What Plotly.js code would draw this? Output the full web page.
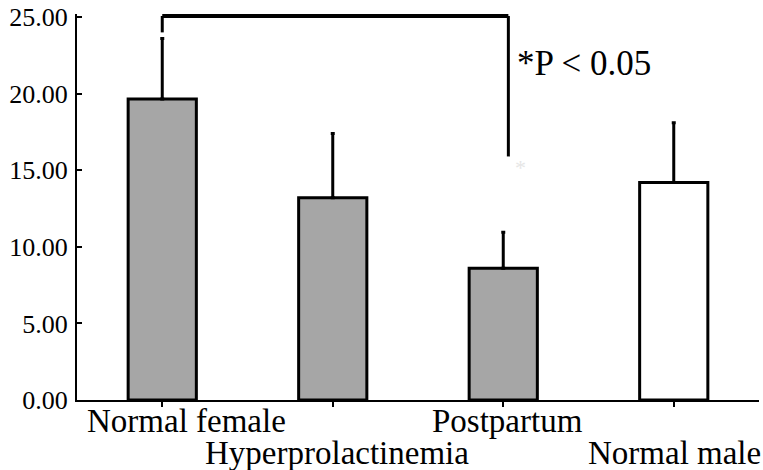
<!DOCTYPE html>
<html>
<head>
<meta charset="utf-8">
<script src="https://cdn.plot.ly/plotly-3.0.1.min.js"></script>
<style>html,body{margin:0;padding:0;background:#fff;}#chart{width:763px;height:470px;}</style>
</head>
<body>
<div id="chart"></div>
<script>
var categories = ["Normal female", "Hyperprolactinemia", "Postpartum", "Normal male"];
var means = [19.65, 13.2, 8.6, 14.2];
var sdUpper = [3.95, 4.2, 2.35, 3.9];
var barColors = ["#a6a6a6", "#a6a6a6", "#a6a6a6", "#ffffff"];
var yTicks = [0, 5, 10, 15, 20, 25];
var sigText = "*P < 0.05";

var idx = categories.map(function(_, i){ return i; });

var trace = {
  type: "bar",
  x: idx,
  y: means,
  width: 0.4,
  marker: {color: barColors, line: {color: "#000", width: 3}},
  error_y: {type: "data", array: sdUpper, arrayminus: sdUpper.map(function(){return 0;}), symmetric: false,
            color: "#000", thickness: 3, width: 2},
  hoverinfo: "skip"
};

var labelRow = [0, 1, 0, 1];
var labelShift = [24, 4, 4, 1];
var annotations = categories.map(function(c, i){
  return {text: c, xref: "x", yref: "paper", x: i, y: 0, xanchor: "center", yanchor: "middle",
          xshift: labelShift[i], yshift: labelRow[i] ? -53 : -21, showarrow: false,
          font: {family: "Liberation Serif", size: 33, color: "#000"}};
});
annotations.push({text: sigText, xref: "x", yref: "y", x: 2.07, y: 22.0, xanchor: "left", yanchor: "middle",
  showarrow: false, font: {family: "Liberation Serif", size: 35, color: "#000"}});
annotations.push({text: "*", xref: "x", yref: "y", x: 2.1, y: 15.2, xanchor: "center", yanchor: "middle",
  showarrow: false, font: {family: "Liberation Serif", size: 22, color: "#e6e6e6"}});

var bracketY = 25.07;
var shapes = [
  {type: "line", xref: "x", yref: "y", x0: 0, x1: 2.03, y0: bracketY, y1: bracketY, line: {color: "#000", width: 4}},
  {type: "line", xref: "x", yref: "y", x0: 0, x1: 0, y0: bracketY, y1: 24.0, line: {color: "#000", width: 3}},
  {type: "line", xref: "x", yref: "y", x0: 2.03, x1: 2.03, y0: bracketY, y1: 15.9, line: {color: "#000", width: 3}}
];

var layout = {
  width: 763, height: 470,
  margin: {l: 77, r: 4, t: 14, b: 70},
  paper_bgcolor: "#fff", plot_bgcolor: "#fff",
  showlegend: false,
  bargap: 0.6,
  font: {family: "Liberation Serif", color: "#000"},
  xaxis: {range: [-0.5, 3.5], tickvals: idx, ticktext: idx.map(function(){return "";}), tickson: "boundaries",
          ticks: "outside", ticklen: 5, tickwidth: 2, tickcolor: "#000",
          showline: true, linecolor: "#000", linewidth: 2, showgrid: false, zeroline: false, fixedrange: true},
  yaxis: {range: [0, 25.2], tickvals: yTicks, tickformat: ".2f", ticks: "inside", ticklen: 5, tickwidth: 2,
          tickcolor: "#000", showline: true, linecolor: "#000", linewidth: 2, showgrid: false, zeroline: false,
          tickfont: {family: "Liberation Serif", size: 26, color: "#000"}, ticklabelstandoff: 2, fixedrange: true},
  annotations: annotations,
  shapes: shapes
};

Plotly.newPlot("chart", [trace], layout, {displayModeBar: false, staticPlot: true});
</script>
</body>
</html>
